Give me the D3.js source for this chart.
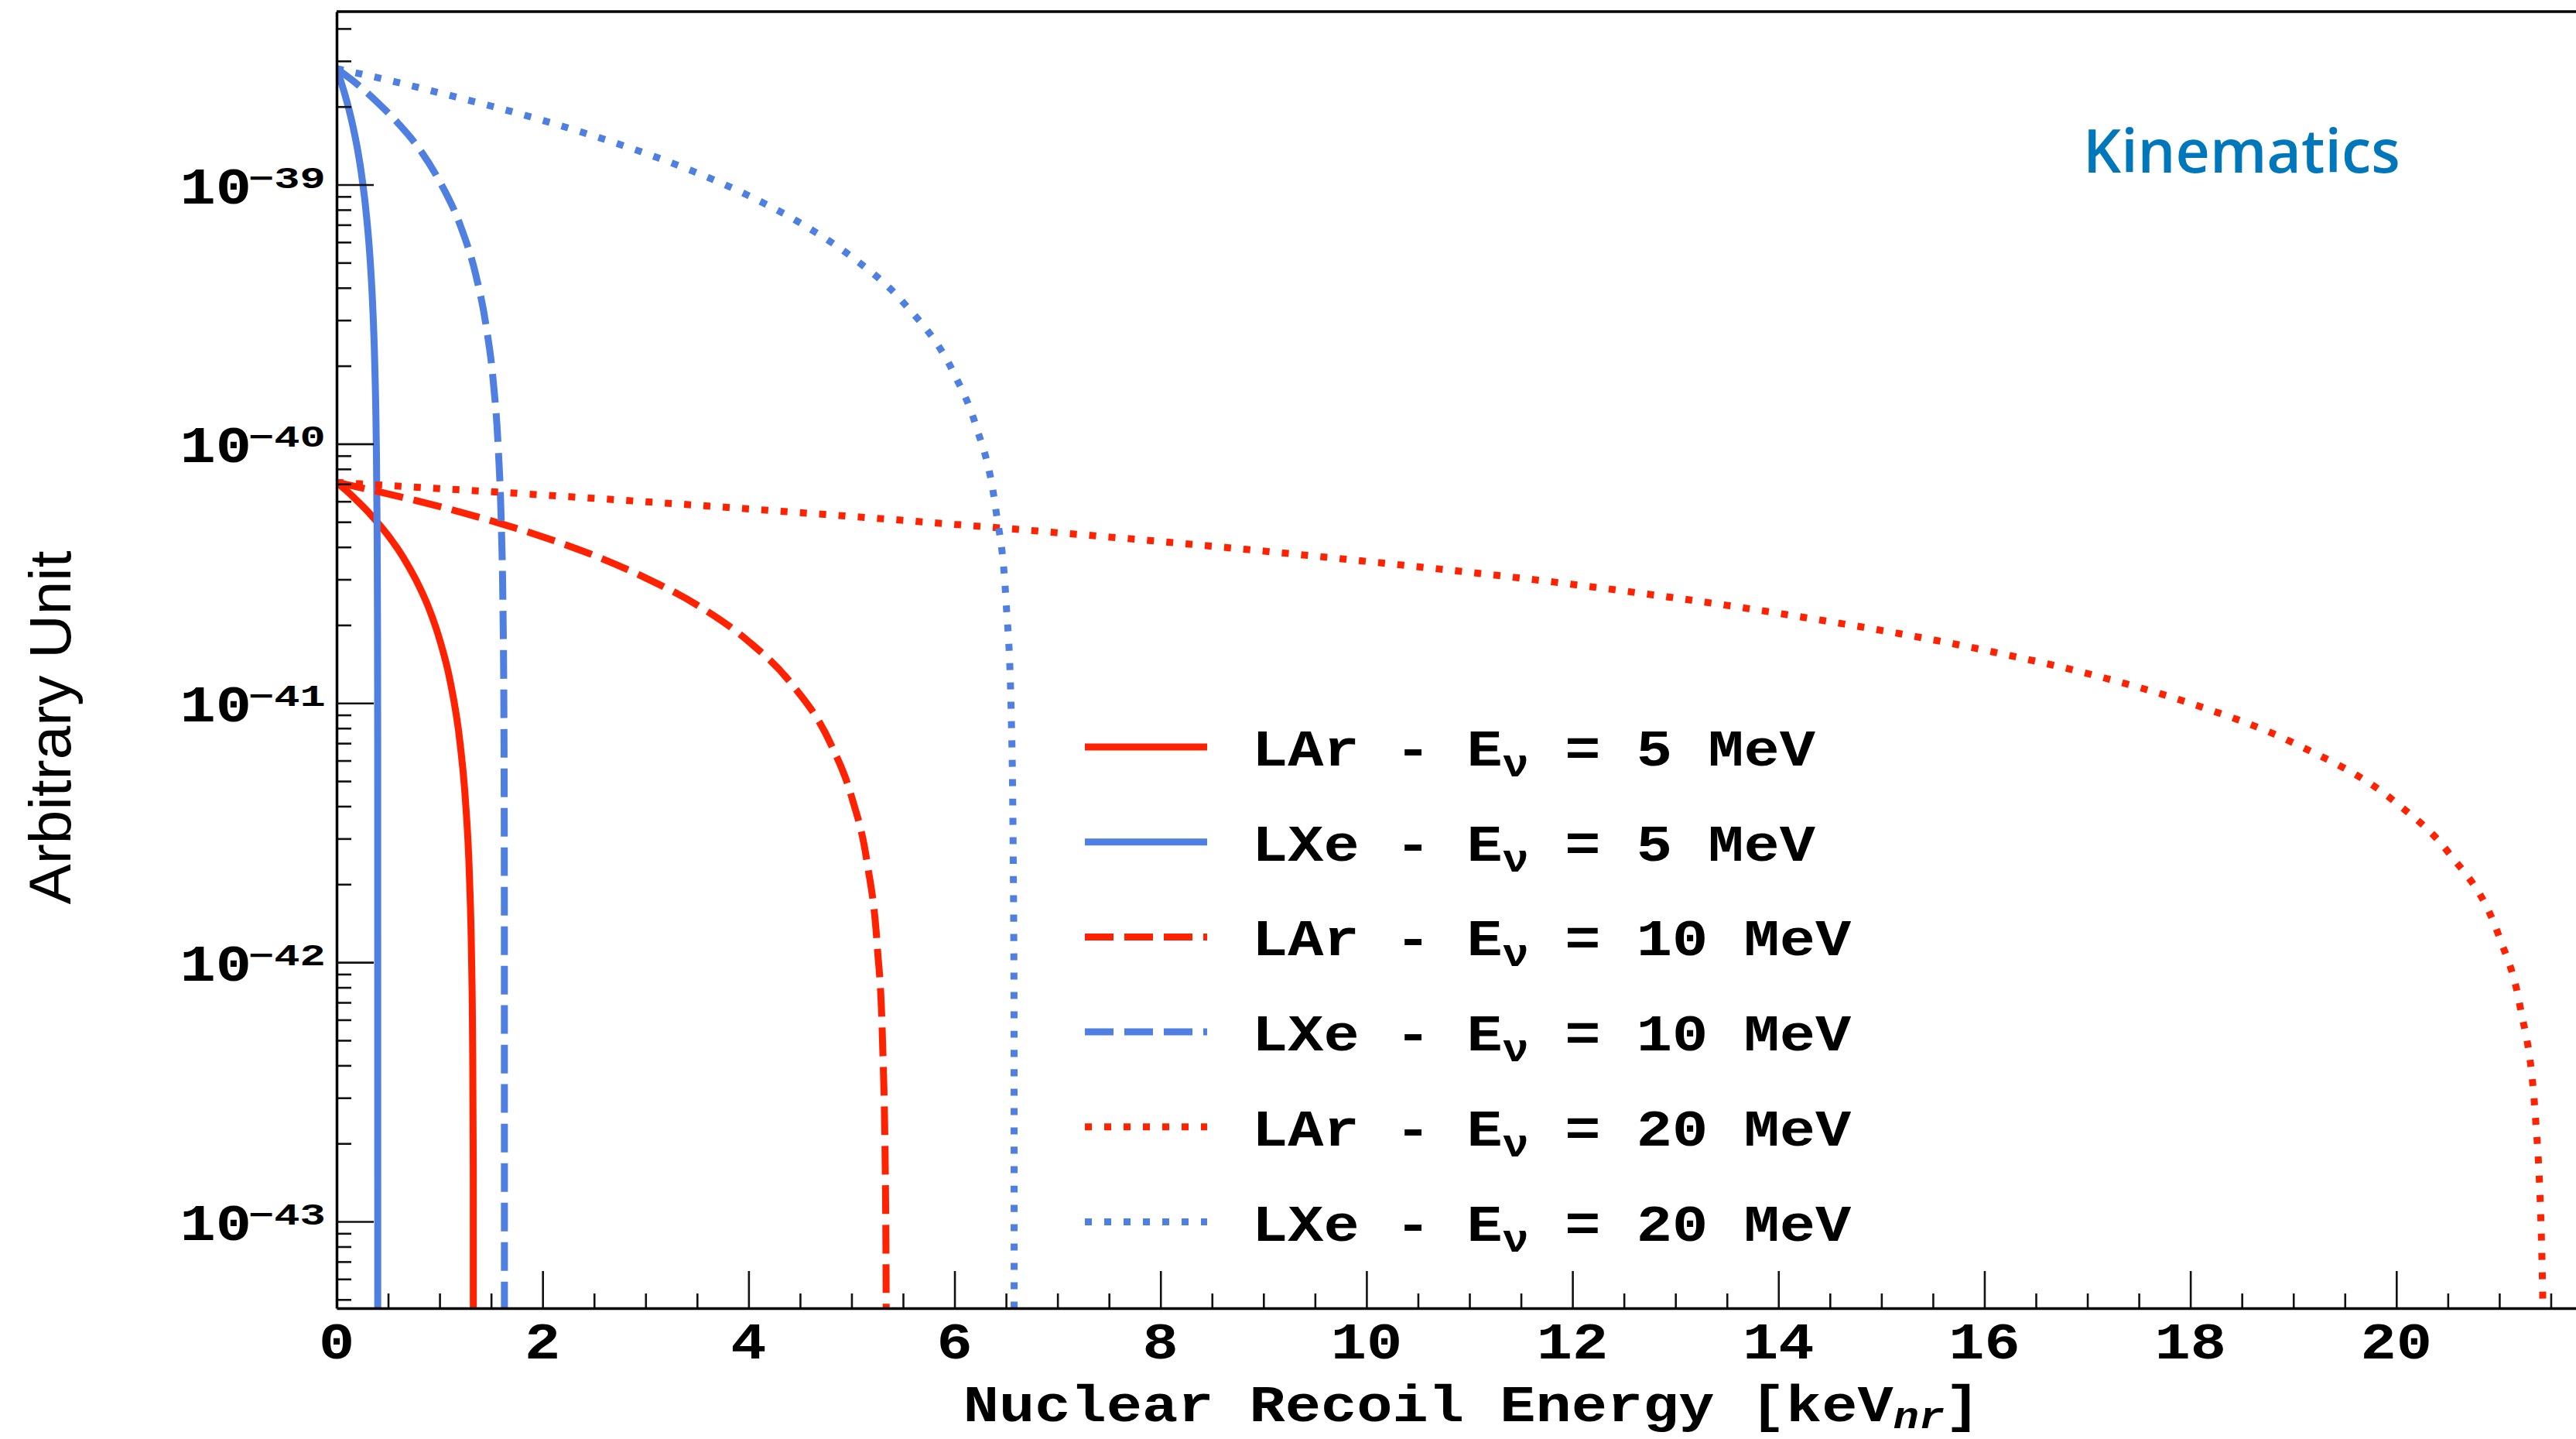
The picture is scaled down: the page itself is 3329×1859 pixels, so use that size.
<!DOCTYPE html>
<html>
<head>
<meta charset="utf-8">
<script src="https://cdn.jsdelivr.net/npm/d3@7"></script>
<style>
  body { margin: 0; background: #fff; }
  svg { display: block; }
  .mono { font-family: "Courier New", "Liberation Mono", monospace; font-weight: bold; white-space: pre; }
</style>
</head>
<body>
<div id="vis"></div>
<script>
// data: recoil energy [keV_nr] and arbitrary unit
const lar5E = [0, 0.1, 0.2, 0.3, 0.4, 0.5, 0.6, 0.7, 0.8, 0.9, 1.0, 1.1, 1.2, 1.25, 1.29, 1.31, 1.32, 1.327, 1.33];
const lar5Y = [7.1e-41, 6.57e-41, 6.03e-41, 5.50e-41, 4.96e-41, 4.43e-41, 3.90e-41, 3.36e-41, 2.83e-41, 2.30e-41, 1.76e-41, 1.23e-41, 6.94e-42, 4.27e-42, 2.14e-42, 1.07e-42, 5.3e-43, 1.6e-43, 1e-46];

const lxe5E = [0, 0.04, 0.08, 0.12, 0.16, 0.2, 0.24, 0.28, 0.32, 0.35, 0.37, 0.385, 0.393, 0.397, 0.399, 0.4];
const lxe5Y = [2.8e-39, 2.51e-39, 2.23e-39, 1.95e-39, 1.67e-39, 1.39e-39, 1.11e-39, 8.29e-40, 5.52e-40, 3.44e-40, 2.06e-40, 1.03e-40, 4.8e-41, 2.06e-41, 6.9e-42, 1e-46];

const lar10E = [0, 0.5, 1, 1.5, 2, 2.5, 3, 3.5, 4, 4.4, 4.8, 5.0, 5.15, 5.25, 5.3, 5.33, 5.337, 5.34];
const lar10Y = [7.1e-41, 6.41e-41, 5.73e-41, 5.05e-41, 4.38e-41, 3.71e-41, 3.04e-41, 2.39e-41, 1.73e-41, 1.21e-41, 6.93e-42, 4.36e-42, 2.44e-42, 1.15e-42, 5.1e-43, 1.28e-43, 3.85e-44, 1e-46];

const lxe10E = [0, 0.2, 0.4, 0.6, 0.8, 1.0, 1.2, 1.35, 1.45, 1.52, 1.57, 1.6, 1.615, 1.625, 1.629, 1.63];
const lxe10Y = [2.8e-39, 2.44e-39, 2.07e-39, 1.72e-39, 1.38e-39, 1.03e-39, 6.98e-40, 4.51e-40, 2.88e-40, 1.76e-40, 9.56e-41, 4.77e-41, 2.39e-41, 8.0e-42, 1.6e-42, 1e-46];

const lar20E = [0, 2, 4, 6, 8, 10, 12, 14, 16, 17, 18, 19, 20, 20.5, 21, 21.2, 21.35, 21.42, 21.44];
const lar20Y = [7.1e-41, 6.35e-41, 5.61e-41, 4.89e-41, 4.20e-41, 3.52e-41, 2.87e-41, 2.22e-41, 1.60e-41, 1.30e-41, 9.98e-42, 7.02e-42, 4.12e-42, 2.67e-42, 1.25e-42, 6.8e-43, 2.55e-43, 5.6e-44, 1e-46];

const lxe20E = [0, 0.5, 1, 1.5, 2, 2.5, 3, 3.5, 4, 4.5, 5, 5.5, 6, 6.2, 6.4, 6.5, 6.55, 6.57, 6.578, 6.58];
const lxe20Y = [2.8e-39, 2.53e-39, 2.26e-39, 2.01e-39, 1.77e-39, 1.54e-39, 1.32e-39, 1.11e-39, 9.07e-40, 7.12e-40, 5.27e-40, 3.52e-40, 1.85e-40, 1.20e-40, 5.61e-41, 2.48e-41, 9.3e-42, 2.5e-42, 6.2e-43, 1e-46];

const targets = ['LAr', 'LXe', 'LAr', 'LXe', 'LAr', 'LXe'];
const nuEnergies = [5, 5, 10, 10, 20, 20];
const xTickLabels = [0, 2, 4, 6, 8, 10, 12, 14, 16, 18, 20];
const yTickExps = [-39, -40, -41, -42, -43];

// styles
const red = '#ff2200';
const blue = '#4f7fe0';
const seriesData = [
    [lar5E, lar5Y], [lxe5E, lxe5Y], [lar10E, lar10Y],
    [lxe10E, lxe10Y], [lar20E, lar20Y], [lxe20E, lxe20Y]
];
const seriesStyle = [
    { color: red, dash: null }, { color: blue, dash: null },
    { color: red, dash: '37,14' }, { color: blue, dash: '37,14' },
    { color: red, dash: '9,16' }, { color: blue, dash: '9,16' }
];

// layout
const W = 3329, H = 1859;
const plot = { left: 435, right: 3363, top: 15, bottom: 1690 };
const sx = 1.15;

const svg = d3.select('#vis')
    .append('svg')
    .attr('width', W)
    .attr('height', H);

svg.append('rect').attr('width', W).attr('height', H).attr('fill', '#fff');

// scales
const x = d3.scaleLinear().domain([0, 22]).range([plot.left, plot.right]);
const y = d3.scaleLog().domain([4.63e-44, 4.65e-39]).range([plot.bottom, plot.top]);

// curves
svg.append('clipPath').attr('id', 'clip')
    .append('rect')
    .attr('x', plot.left).attr('y', plot.top)
    .attr('width', plot.right - plot.left).attr('height', plot.bottom - plot.top);

const line = d3.line()
    .x(d => x(d[0]))
    .y(d => y(d[1]))
    .curve(d3.curveMonotoneX);

const curves = svg.append('g').attr('clip-path', 'url(#clip)');
seriesData.forEach(([es, vs], i) => {
    const pts = es.map((e, j) => [e, vs[j]]);
    curves.append('path')
        .attr('d', line(pts))
        .attr('fill', 'none')
        .attr('stroke', seriesStyle[i].color)
        .attr('stroke-width', 9)
        .attr('stroke-dasharray', seriesStyle[i].dash);
});

// axes
const xMajor = d3.range(0, 22.01, 2);
const xMinor = d3.range(0, 22.01, 0.5).filter(v => v % 2 !== 0);
const yMajor = yTickExps.map(e => Math.pow(10, e));
const yMinor = [];
for (let n = -44; n <= -39; n++) {
    for (let k = 2; k <= 9; k++) {
        const v = k * Math.pow(10, n);
        if (v > y.domain()[0] && v < y.domain()[1]) yMinor.push(v);
    }
}

function styleAxis(g) {
    g.select('.domain').attr('stroke', '#000').attr('stroke-width', 3.5);
    g.selectAll('.tick line').attr('stroke', '#111').attr('stroke-width', 2.6);
}

svg.append('g')
    .attr('transform', `translate(0,${plot.bottom})`)
    .call(d3.axisBottom(x).tickValues(xMinor).tickSize(-19).tickSizeOuter(0).tickFormat(''))
    .call(g => g.select('.domain').remove())
    .call(styleAxis);
svg.append('g')
    .attr('transform', `translate(0,${plot.bottom})`)
    .call(d3.axisBottom(x).tickValues(xMajor).tickSize(-48).tickSizeOuter(0).tickFormat(''))
    .call(styleAxis);

svg.append('g')
    .attr('transform', `translate(${plot.left},0)`)
    .call(d3.axisLeft(y).tickValues(yMinor).tickSize(-19).tickSizeOuter(0).tickFormat(''))
    .call(g => g.select('.domain').remove())
    .call(styleAxis);
svg.append('g')
    .attr('transform', `translate(${plot.left},0)`)
    .call(d3.axisLeft(y).tickValues(yMajor).tickSize(-48).tickSizeOuter(0).tickFormat(''))
    .call(styleAxis);

svg.append('line')
    .attr('x1', plot.left).attr('x2', plot.right)
    .attr('y1', plot.top).attr('y2', plot.top)
    .attr('stroke', '#000').attr('stroke-width', 3.5);

// tick labels
svg.append('g').selectAll('text')
    .data(xTickLabels)
    .join('text')
    .attr('class', 'mono')
    .attr('transform', d => `translate(${x(d)},1755) scale(${sx},1)`)
    .attr('text-anchor', 'middle')
    .attr('font-size', 67)
    .text(d => d);

const yl = svg.append('g').selectAll('g')
    .data(yTickExps)
    .join('g');
yl.append('text')
    .attr('class', 'mono')
    .attr('transform', d => `translate(325,${y(Math.pow(10, d)) + 24}) scale(${sx},1)`)
    .attr('text-anchor', 'end')
    .attr('font-size', 67)
    .text('10');
yl.append('text')
    .attr('class', 'mono')
    .attr('transform', d => `translate(321,${y(Math.pow(10, d)) + 4}) scale(1.42,1)`)
    .attr('font-size', 39)
    .text(d => '\u2212' + Math.abs(d));

// axis titles
const xt = svg.append('text')
    .attr('class', 'mono')
    .attr('transform', `translate(1902,1836) scale(${sx},1)`)
    .attr('text-anchor', 'middle')
    .attr('font-size', 67);
xt.append('tspan').text('Nuclear Recoil Energy [keV');
xt.append('tspan').attr('font-size', 48).attr('font-style', 'italic').attr('dy', 9).text('nr');
xt.append('tspan').attr('dy', -9).text(']');

svg.append('text')
    .attr('transform', 'translate(91,940) rotate(-90)')
    .attr('text-anchor', 'middle')
    .attr('font-family', '"Liberation Sans", Arial, sans-serif')
    .attr('font-size', 76)
    .attr('textLength', 457)
    .attr('lengthAdjust', 'spacingAndGlyphs')
    .text('Arbitrary Unit');

svg.append('text')
    .attr('x', 2692).attr('y', 223)
    .attr('font-family', '"Open Sans", "Noto Sans", sans-serif')
    .attr('font-weight', 600)
    .attr('font-size', 77)
    .attr('fill', '#0077bb')
    .text('Kinematics');

// legend
const legendY0 = 965, legendStep = 122.7;
const rows = svg.append('g').selectAll('g')
    .data(targets)
    .join('g')
    .attr('transform', (d, i) => `translate(0,${legendY0 + i * legendStep})`);
rows.append('line')
    .attr('x1', 1402).attr('x2', 1560)
    .attr('stroke', (d, i) => seriesStyle[i].color)
    .attr('stroke-width', 9)
    .attr('stroke-dasharray', (d, i) => seriesStyle[i].dash);
const lt = rows.append('text')
    .attr('class', 'mono')
    .attr('transform', `translate(1618,24) scale(${sx},1)`)
    .attr('font-size', 67);
lt.append('tspan').text(d => `${d} - E`);
lt.append('tspan').attr('font-size', 50).attr('dy', 14).text('\u03bd');
lt.append('tspan').attr('dy', -14).text((d, i) => ` = ${nuEnergies[i]} MeV`);
</script>
</body>
</html>
